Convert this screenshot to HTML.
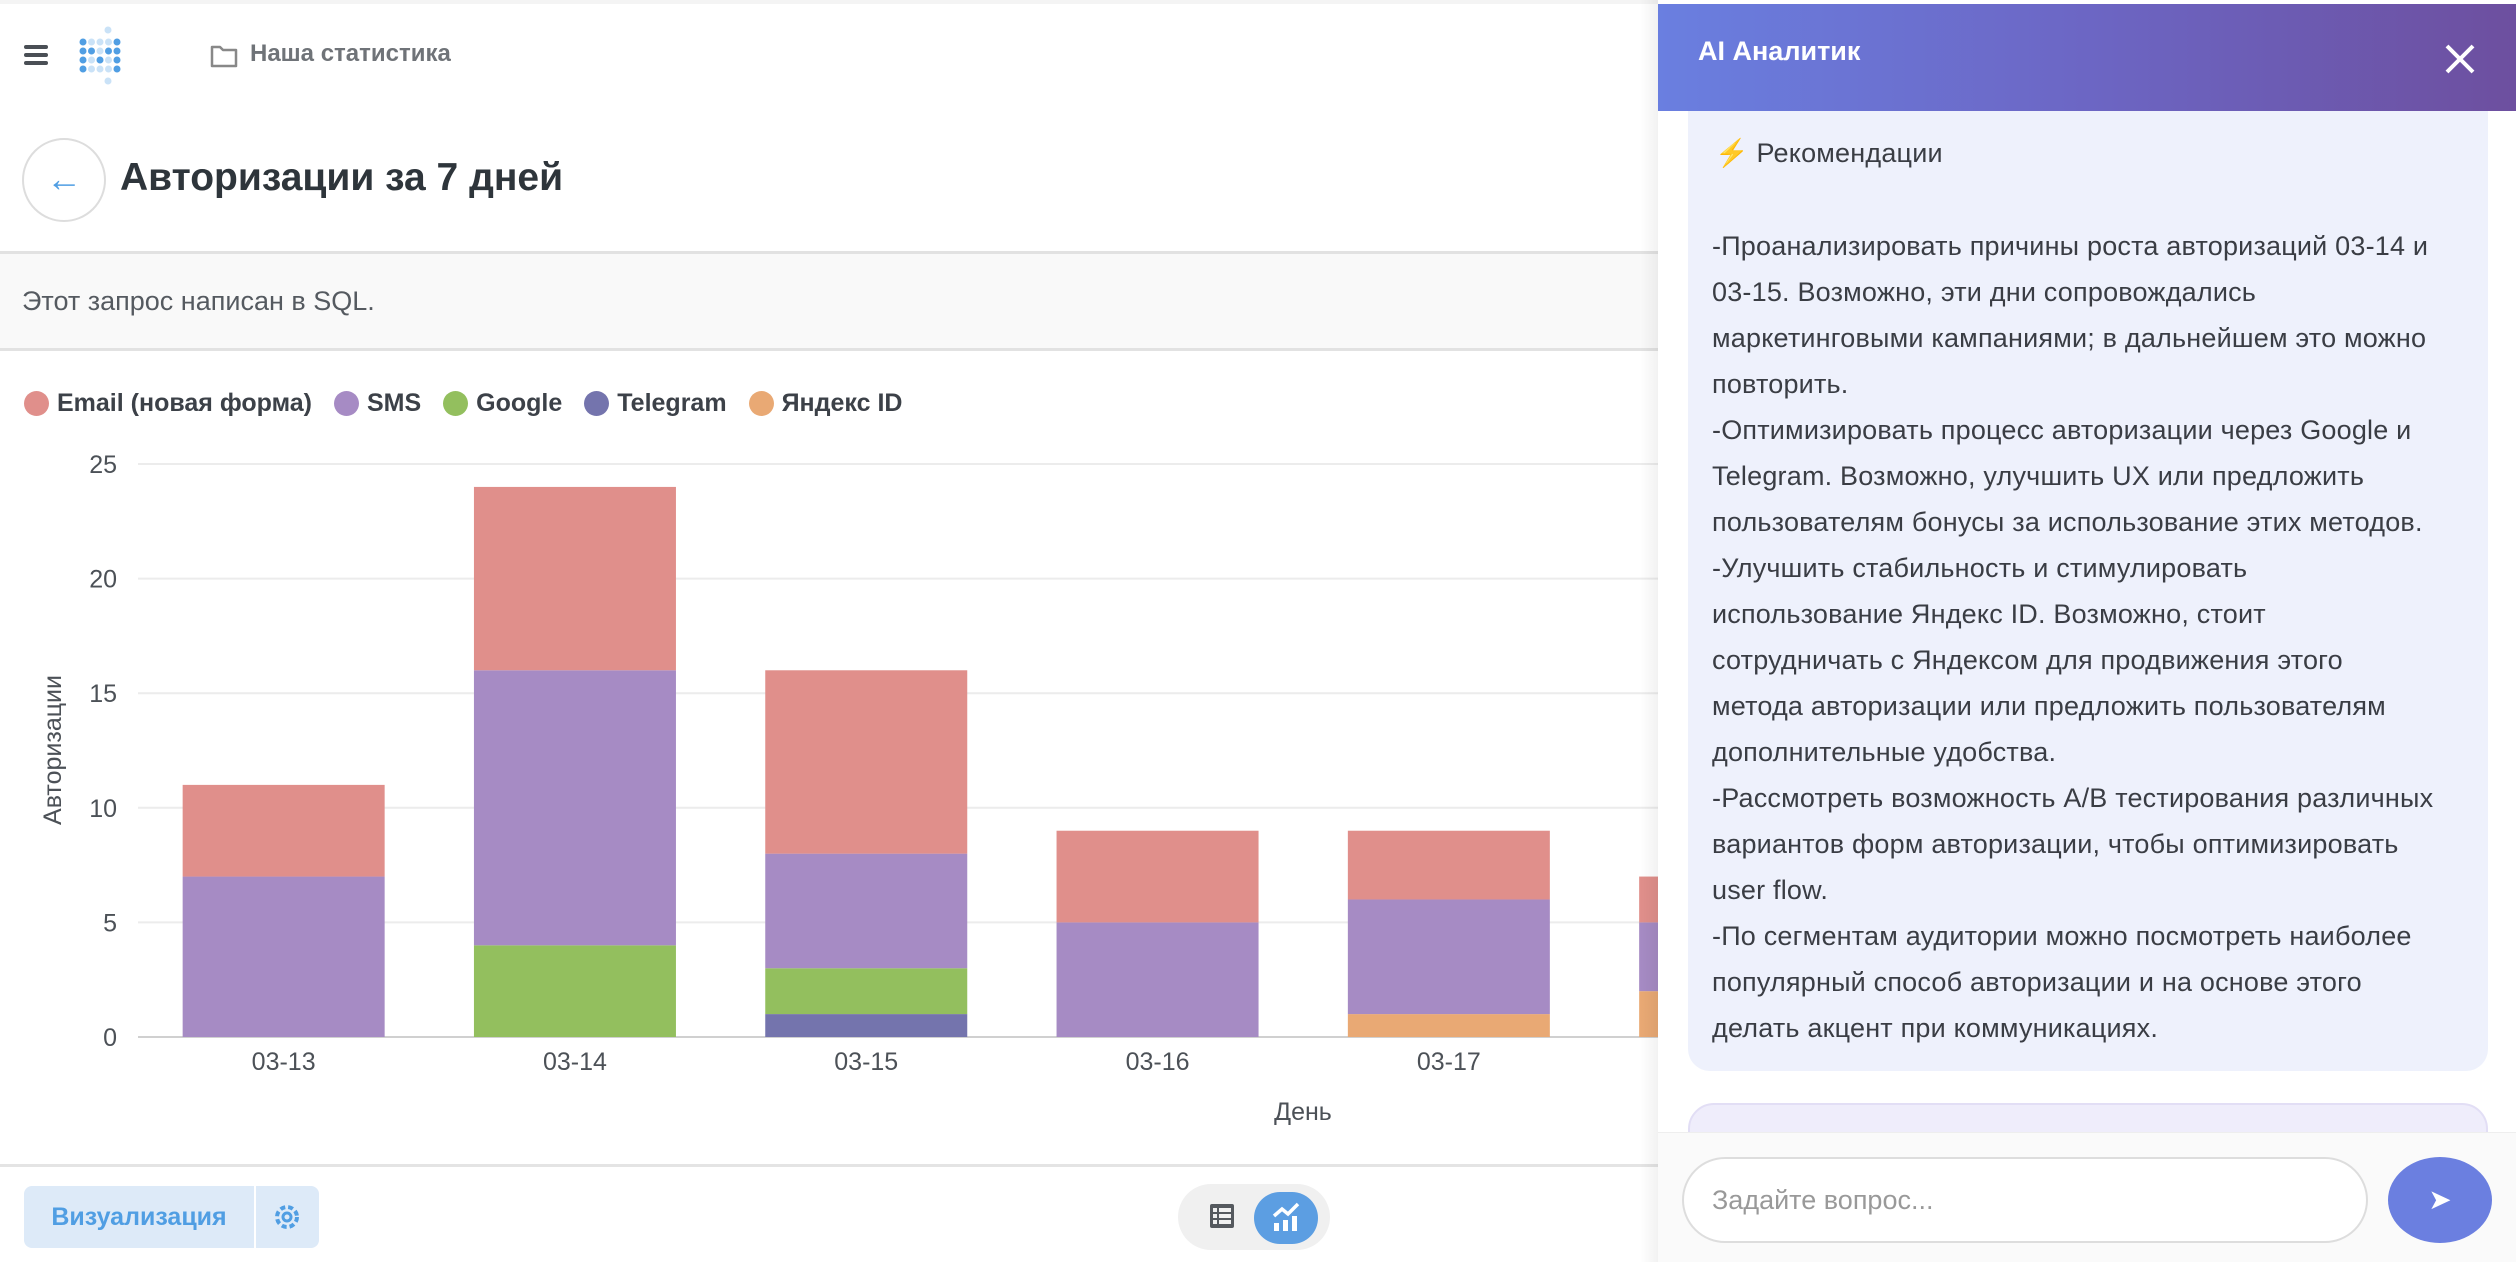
<!DOCTYPE html>
<html><head><meta charset="utf-8">
<style>
*{box-sizing:border-box;margin:0;padding:0}
body{width:2516px;height:1262px;overflow:hidden;background:#fff;font-family:"Liberation Sans",sans-serif;position:relative;color:#2e353b}
.abs{position:absolute}
.pl{position:absolute;left:1712px;font-size:27px;color:#3a3d44;white-space:nowrap;letter-spacing:0.2px}
</style></head><body>
<div class="abs" style="left:0;top:0;width:2516px;height:4px;background:#f4f4f4"></div>
<div class="abs" style="left:24px;top:45px;width:24px;height:20px">
 <div style="height:4px;background:#4a4f55;border-radius:2px;margin-bottom:4px"></div><div style="height:4px;background:#4a4f55;border-radius:2px;margin-bottom:4px"></div><div style="height:4px;background:#4a4f55;border-radius:2px"></div></div>
<svg class="abs" style="left:78px;top:26px" width="64" height="64">
 <g fill="#509ee3"><circle cx="30" cy="4" r="3.5" opacity=".3"/>
 <circle cx="5" cy="16" r="3.5"/><circle cx="13.5" cy="16" r="3.5" opacity=".3"/><circle cx="22" cy="16" r="3.5" opacity=".3"/><circle cx="30.5" cy="16" r="3.5" opacity=".3"/><circle cx="39" cy="16" r="3.5"/>
 <circle cx="5" cy="25" r="3.5"/><circle cx="13.5" cy="25" r="3.5"/><circle cx="22" cy="25" r="3.5" opacity=".3"/><circle cx="30.5" cy="25" r="3.5"/><circle cx="39" cy="25" r="3.5"/>
 <circle cx="5" cy="34" r="3.5"/><circle cx="13.5" cy="34" r="3.5" opacity=".3"/><circle cx="22" cy="34" r="3.5"/><circle cx="30.5" cy="34" r="3.5" opacity=".3"/><circle cx="39" cy="34" r="3.5"/>
 <circle cx="5" cy="43" r="3.5"/><circle cx="13.5" cy="43" r="3.5" opacity=".3"/><circle cx="22" cy="43" r="3.5" opacity=".3"/><circle cx="30.5" cy="43" r="3.5" opacity=".3"/><circle cx="39" cy="43" r="3.5"/>
 <circle cx="30" cy="55" r="3.5" opacity=".3"/></g></svg>
<svg class="abs" style="left:210px;top:43px" width="28" height="26"><path d="M2 4h8l3 3h13v16H2z" fill="none" stroke="#888" stroke-width="2.5" stroke-linejoin="round"/></svg>
<div class="abs" style="left:250px;top:40px;font-size:24px;font-weight:bold;color:#6f7378">Наша статистика</div>
<div class="abs" style="left:22px;top:138px;width:84px;height:84px;border:2px solid #ddd;border-radius:50%;color:#509ee3;font-size:36px;text-align:center;line-height:78px">←</div>
<div class="abs" style="left:120px;top:156px;font-size:39px;font-weight:bold;color:#2e353b">Авторизации за 7 дней</div>
<div class="abs" style="left:0;top:251px;width:1660px;height:100px;background:#f9f9f9;border-top:3px solid #e2e2e2;border-bottom:3px solid #e2e2e2"></div>
<div class="abs" style="left:22px;top:286px;font-size:27px;color:#555a60">Этот запрос написан в SQL.</div>

<div class="abs" style="left:24px;top:389px;font-size:25px;font-weight:bold;color:#3c4148;display:flex;align-items:center;white-space:nowrap">
 <span style="display:flex;align-items:center;margin-right:22px"><i style="width:25px;height:25px;border-radius:50%;background:#e08f8b;margin-right:8px"></i>Email (новая форма)</span>
 <span style="display:flex;align-items:center;margin-right:22px"><i style="width:25px;height:25px;border-radius:50%;background:#a68bc4;margin-right:8px"></i>SMS</span>
 <span style="display:flex;align-items:center;margin-right:22px"><i style="width:25px;height:25px;border-radius:50%;background:#93bf5e;margin-right:8px"></i>Google</span>
 <span style="display:flex;align-items:center;margin-right:22px"><i style="width:25px;height:25px;border-radius:50%;background:#7474ad;margin-right:8px"></i>Telegram</span>
 <span style="display:flex;align-items:center"><i style="width:25px;height:25px;border-radius:50%;background:#e9a974;margin-right:8px"></i>Яндекс ID</span>
</div>

<svg class="abs" id="chart" style="left:0;top:0" width="1660" height="1170"></svg>

<div class="abs" style="left:0;top:1164px;width:1660px;height:3px;background:#e4e4e4"></div>
<div class="abs" style="left:24px;top:1186px;width:230px;height:62px;background:#ddeaf8;border-radius:8px 0 0 8px;color:#509ee3;font-size:25px;font-weight:bold;line-height:62px;text-align:center">Визуализация</div>
<div class="abs" style="left:256px;top:1186px;width:63px;height:62px;background:#ddeaf8;border-radius:0 8px 8px 0"><svg width="63" height="62"><circle cx="31" cy="31" r="10" fill="none" stroke="#509ee3" stroke-width="4" stroke-dasharray="5 3"/><circle cx="31" cy="31" r="4" fill="none" stroke="#509ee3" stroke-width="3"/></svg></div>
<div class="abs" style="left:1178px;top:1184px;width:152px;height:66px;background:#f0f0f0;border-radius:33px"></div>
<svg class="abs" style="left:1209px;top:1203px" width="26" height="26"><rect x="1" y="1" width="24" height="24" rx="2" fill="#55595e"/><g fill="#f0f0f0"><rect x="4" y="5" width="4" height="4"/><rect x="10" y="5" width="12" height="4"/><rect x="4" y="11" width="4" height="4"/><rect x="10" y="11" width="12" height="4"/><rect x="4" y="17" width="4" height="4"/><rect x="10" y="17" width="12" height="4"/></g></svg>
<div class="abs" style="left:1254px;top:1192px;width:64px;height:52px;background:#5c9ee2;border-radius:26px"><svg width="64" height="52"><polyline points="20,24 28,17 34,22 44,12" fill="none" stroke="#fff" stroke-width="3.5"/><rect x="20" y="31" width="5" height="8" fill="#fff"/><rect x="29" y="28" width="5" height="11" fill="#fff"/><rect x="38" y="24" width="5" height="15" fill="#fff"/></svg></div>

<!-- AI panel -->
<div class="abs" style="left:1640px;top:0;width:20px;height:1262px;background:linear-gradient(to right,rgba(0,0,0,0),rgba(0,0,0,0.06))"></div>
<div class="abs" style="left:1658px;top:0;width:858px;height:1262px;background:#fff"></div>
<div class="abs" style="left:1658px;top:4px;width:858px;height:107px;background:linear-gradient(to right,#6a7fe0,#6c66c4 50%,#6d4f9f)"></div>
<div class="abs" style="left:1698px;top:36px;font-size:27px;font-weight:bold;color:#fff">AI Аналитик</div>
<svg class="abs" style="left:2444px;top:43px" width="32" height="32"><path d="M3 3L29 29M29 3L3 29" stroke="#fff" stroke-width="4"/></svg>
<div class="abs" style="left:1688px;top:111px;width:800px;height:960px;background:#eef1fc;border-radius:0 0 22px 22px"></div>
<div class="abs" style="left:1688px;top:1103px;width:800px;height:60px;background:#efedfb;border:2px solid #e2def5;border-radius:26px"></div>
<div class="pl" style="left:1715px;top:137px">⚡ Рекомендации</div>
<div id="lines"></div>
<div class="abs" style="left:1658px;top:1132px;width:858px;height:130px;background:#fafafa;border-top:1px solid #eee"></div>
<div class="abs" style="left:1682px;top:1157px;width:686px;height:86px;background:#fff;border:2px solid #ddd;border-radius:43px;font-size:27px;color:#999;padding-left:28px;line-height:82px">Задайте вопрос...</div>
<div class="abs" style="left:2388px;top:1157px;width:104px;height:86px;background:#6b7fe0;border-radius:50%;color:#fff;font-size:28px;text-align:center;line-height:86px">➤</div>

<script>
const categories=["03-13","03-14","03-15","03-16","03-17","03-18"];
const yandex=[0,0,0,0,1,2];
const telegram=[0,0,1,0,0,0];
const google=[0,4,2,0,0,0];
const sms=[7,12,5,5,5,3];
const email=[4,8,8,4,3,2];
const yTicks=[0,5,10,15,20,25];
const seriesList=[["yandex",yandex,"#e9a974"],["telegram",telegram,"#7474ad"],["google",google,"#93bf5e"],["sms",sms,"#a68bc4"],["email",email,"#e08f8b"]];
const NS="http://www.w3.org/2000/svg";
const svg=document.getElementById("chart");
const y0=1037,yTop=464,yMax=25;
const yS=v=>y0-(y0-yTop)*v/yMax;
const x0=138,band=291.3;
const xC=i=>x0+band*(i+0.5);
const bw=202;
function mk(t,a){const e=document.createElementNS(NS,t);for(const k in a)e.setAttribute(k,a[k]);svg.appendChild(e);return e;}
yTicks.forEach(v=>{
 const g=mk("line",{x1:x0,x2:1660,y1:yS(v),y2:yS(v),stroke:v===0?"#d0d0d0":"#ececec","stroke-width":2});
 
 
 const t=mk("text",{x:117,y:yS(v)+9,"text-anchor":"end","font-size":25,fill:"#4c5157"});
 t.textContent=v;
 
 
});
categories.forEach((c,i)=>{
 let acc=0;
 seriesList.forEach(([n,arr,col])=>{
  const v=arr[i]; if(!v)return;
  const r=mk("rect",{x:xC(i)-bw/2,y:yS(acc+v),width:bw,height:yS(acc)-yS(acc+v),fill:col});
  
  
  acc+=v;
 });
 const t=mk("text",{x:xC(i),y:1070,"text-anchor":"middle","font-size":25,fill:"#4c5157"});
 t.textContent=c;
 
 
});
const xt=mk("text",{x:1303,y:1120,"text-anchor":"middle","font-size":25,fill:"#4c5157"});
xt.textContent="День";


const yt=mk("text",{x:0,y:0,"text-anchor":"middle","font-size":25,fill:"#4c5157",transform:"translate(61,750) rotate(-90)"});
yt.textContent="Авторизации";



const lines=["-Проанализировать причины роста авторизаций 03-14 и","03-15. Возможно, эти дни сопровождались","маркетинговыми кампаниями; в дальнейшем это можно","повторить.","-Оптимизировать процесс авторизации через Google и","Telegram. Возможно, улучшить UX или предложить","пользователям бонусы за использование этих методов.","-Улучшить стабильность и стимулировать","использование Яндекс ID. Возможно, стоит","сотрудничать с Яндексом для продвижения этого","метода авторизации или предложить пользователям","дополнительные удобства.","-Рассмотреть возможность A/B тестирования различных","вариантов форм авторизации, чтобы оптимизировать","user flow.","-По сегментам аудитории можно посмотреть наиболее","популярный способ авторизации и на основе этого","делать акцент при коммуникациях."];
const host=document.getElementById("lines");
lines.forEach((l,i)=>{
 const d=document.createElement("div");
 d.className="pl";
 d.style.top=(231+i*46)+"px";
 d.textContent=l;
 
 
 host.appendChild(d);
});
</script>
</body></html>
